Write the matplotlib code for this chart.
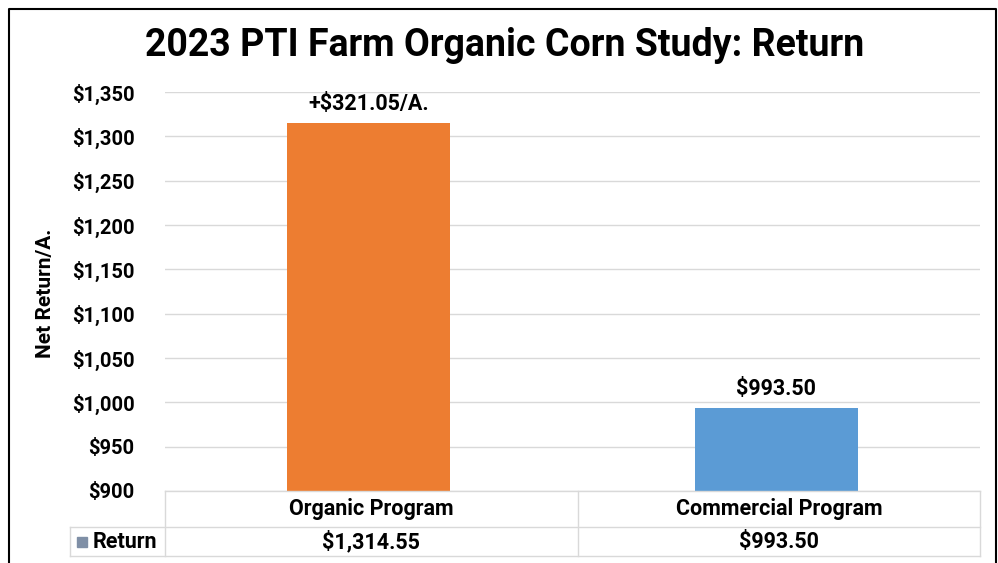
import matplotlib.pyplot as plt
from matplotlib.lines import Line2D

plt.rcParams['font.family'] = ['Roboto', 'DejaVu Sans']

programs = ["Organic Program", "Commercial Program"]
returns = [1314.55, 993.50]
bar_labels = ["+$321.05/A.", "$993.50"]
table_labels = ["$1,314.55", "$993.50"]
colors = ["#ED7D31", "#5B9BD5"]
yticks = list(range(900, 1351, 50))

W, H = 998, 563
fig = plt.figure(figsize=(W / 100, H / 100), dpi=100)

def fx(px):
    return px / W

def fy(py):
    return 1 - py / H

ax = fig.add_axes([fx(165), fy(491), fx(980) - fx(165), fy(92) - fy(491)])
x = range(len(programs))
ax.bar(x, [r - 900 for r in returns], bottom=900, width=0.4, color=colors, zorder=3)
ax.set_xlim(-0.5, 1.5)
ax.set_ylim(900, 1350)
ax.set_yticks(yticks)
ax.set_yticklabels(["${:,}".format(v) for v in yticks], fontsize=14.5, fontweight='bold')
ax.tick_params(axis='y', length=0, pad=22)
ax.set_xticks([])
ax.grid(axis='y', color='#D9D9D9', linewidth=1, zorder=0)
for s in ax.spines.values():
    s.set_visible(False)

for i, r in enumerate(returns):
    ax.text(i, r + 9, bar_labels[i], ha='center', va='bottom', fontsize=15.5, fontweight='bold')

fig.text(fx(45), fy(293), "Net Return/A.", rotation=90, ha='center', va='center',
         fontsize=15, fontweight='bold')
fig.text(fx(505), fy(46), "2023 PTI Farm Organic Corn Study: Return", ha='center', va='center',
         fontsize=27, fontweight='bold')

# data table below the plot
gc = '#D9D9D9'
lines = [
    ((165, 980), (491, 491)),
    ((70, 980), (527, 527)),
    ((70, 980), (556, 556)),
    ((70, 70), (527, 556)),
    ((165, 165), (491, 556)),
    ((578, 578), (491, 556)),
    ((980, 980), (491, 556)),
]
for xs, ys in lines:
    fig.add_artist(Line2D([fx(xs[0]), fx(xs[1])], [fy(ys[0]), fy(ys[1])], color=gc, lw=1))

col_centers = [371, 779]
for i, p in enumerate(programs):
    fig.text(fx(col_centers[i]), fy(509), p, ha='center', va='center', fontsize=15.5, fontweight='bold')
    fig.text(fx(col_centers[i]), fy(542), table_labels[i], ha='center', va='center',
             fontsize=15.5, fontweight='bold')
fig.add_artist(plt.Rectangle((fx(77), fy(547)), fx(10), fy(537) - fy(547), color='#7F8FA6',
                             transform=fig.transFigure))
fig.text(fx(93), fy(542), "Return", ha='left', va='center', fontsize=15.5, fontweight='bold')

# outer border
fig.add_artist(Line2D([fx(9), fx(9), fx(996), fx(996)], [0, fy(9), fy(9), 0], color='black', lw=1.5))

fig.savefig("out.png", dpi=100)
